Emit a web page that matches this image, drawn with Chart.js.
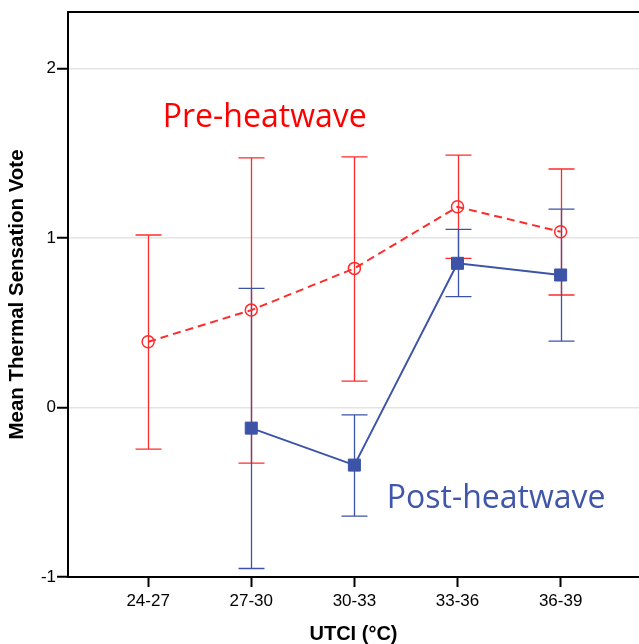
<!DOCTYPE html>
<html>
<head>
<meta charset="utf-8">
<script src="https://cdn.jsdelivr.net/npm/chart.js@4/dist/chart.umd.min.js"></script>
<style>
  html, body { margin: 0; padding: 0; background: #fff; }
  #wrap { width: 639px; height: 644px; }
</style>
</head>
<body>
<div id="wrap"><canvas id="c" width="639" height="644"></canvas></div>
<script>
const categories = ['24-27', '27-30', '30-33', '33-36', '36-39'];
const yTickValues = [-1, 0, 1, 2];

const preMean  = [0.387, 0.574, 0.820, 1.183, 1.036];
const preLow   = [-0.246, -0.329, 0.155, 0.879, 0.663];
const preHigh  = [1.017, 1.472, 1.478, 1.488, 1.406];

const postMean = [null, -0.122, -0.340, 0.850, 0.781];
const postLow  = [null, -0.950, -0.641, 0.653, 0.391];
const postHigh = [null, 0.702, -0.044, 1.050, 1.170];

const RED = '#ff2b2b';
const BLUE = '#3c53a8';

function pts(arr) {
  return arr.map((v, i) => (v === null ? null : { x: i + 1, y: v })).filter(p => p);
}

const errorBars = [
  { low: preLow, high: preHigh, color: RED },
  { low: postLow, high: postHigh, color: BLUE }
];

const annotations = [
  { text: 'Pre-heatwave', x: 1.142, y: 1.654, color: '#ff0000' },
  { text: 'Post-heatwave', x: 3.314, y: -0.594, color: '#4056a8' }
];

const errorBarPlugin = {
  id: 'errorBars',
  beforeDatasetsDraw(chart) {
    const { ctx, scales: { x, y } } = chart;
    ctx.save();
    errorBars.forEach(eb => {
      ctx.strokeStyle = eb.color;
      ctx.lineWidth = 1.3;
      eb.low.forEach((lo, i) => {
        if (lo === null) return;
        const hi = eb.high[i];
        const px = Math.round(x.getPixelForValue(i + 1)) + 0.5;
        const pl = y.getPixelForValue(lo);
        const ph = y.getPixelForValue(hi);
        const cap = 13;
        ctx.beginPath();
        ctx.moveTo(px, pl); ctx.lineTo(px, ph);
        ctx.moveTo(px - cap, pl); ctx.lineTo(px + cap, pl);
        ctx.moveTo(px - cap, ph); ctx.lineTo(px + cap, ph);
        ctx.stroke();
      });
    });
    ctx.restore();
  },
  afterDraw(chart) {
    const { ctx, chartArea, scales: { x, y } } = chart;
    ctx.save();
    ctx.strokeStyle = '#000';
    ctx.lineWidth = 2;
    ctx.beginPath();
    ctx.moveTo(chartArea.left - 1, chartArea.top);
    ctx.lineTo(chartArea.right, chartArea.top);
    ctx.stroke();
    ctx.font = '32px "Open Sans"';
    ctx.textAlign = 'left';
    ctx.textBaseline = 'alphabetic';
    annotations.forEach(a => {
      ctx.fillStyle = a.color;
      ctx.fillText(a.text, x.getPixelForValue(a.x), y.getPixelForValue(a.y));
    });
    ctx.restore();
  }
};

new Chart(document.getElementById('c'), {
  type: 'line',
  data: {
    datasets: [
      {
        label: 'Pre-heatwave',
        data: pts(preMean),
        borderColor: RED,
        backgroundColor: 'rgba(0,0,0,0)',
        borderWidth: 2,
        borderDash: [8, 5],
        pointStyle: 'circle',
        pointRadius: 6,
        pointBorderWidth: 1.5,
        pointBorderColor: RED,
        pointBackgroundColor: 'rgba(255,255,255,0)',
        fill: false,
        tension: 0
      },
      {
        label: 'Post-heatwave',
        data: pts(postMean),
        borderColor: BLUE,
        backgroundColor: BLUE,
        borderWidth: 2,
        pointStyle: 'rect',
        pointRadius: 8.5,
        pointBorderWidth: 1,
        pointBorderColor: BLUE,
        pointBackgroundColor: BLUE,
        fill: false,
        tension: 0
      }
    ]
  },
  options: {
    responsive: false,
    animation: false,
    layout: { autoPadding: false, padding: { top: 12, right: 0, left: 0, bottom: 0 } },
    plugins: { legend: { display: false }, tooltip: { enabled: false } },
    scales: {
      x: {
        type: 'linear',
        min: 0.223,
        max: 5.76,
        afterBuildTicks(scale) {
          scale.ticks = categories.map((c, i) => ({ value: i + 1 }));
        },
        afterFit(scale) {
          scale.height = 67;
          scale.paddingLeft = 0;
          scale.paddingRight = 0;
        },
        ticks: {
          autoSkip: false,
          maxRotation: 0,
          padding: 4,
          color: '#000',
          font: { family: '"Liberation Sans", Arial', size: 17 },
          callback: (v) => categories[Math.round(v) - 1]
        },
        grid: {
          drawOnChartArea: false,
          drawTicks: true,
          tickLength: 10,
          tickColor: '#000',
          tickWidth: 2
        },
        border: { color: '#000', width: 2 },
        title: {
          display: true,
          text: 'UTCI (°C)',
          color: '#000',
          font: { family: '"Liberation Sans", Arial', size: 20, weight: 'bold', lineHeight: 1 },
          padding: { top: 0, bottom: 0 }
        }
      },
      y: {
        type: 'linear',
        min: -1,
        max: 2.332,
        afterBuildTicks(scale) {
          scale.ticks = yTickValues.map(v => ({ value: v }));
        },
        afterFit(scale) {
          scale.width = 68;
          scale.paddingTop = 0;
          scale.paddingBottom = 0;
        },
        ticks: {
          padding: 1,
          color: '#000',
          font: { family: '"Liberation Sans", Arial', size: 17 },
          callback: (v) => String(v)
        },
        grid: {
          color: (ctx) => (ctx.tick && ctx.tick.value === -1 ? 'rgba(0,0,0,0)' : '#e4e4e4'),
          lineWidth: 1.5,
          tickLength: 11,
          tickColor: '#000',
          tickWidth: 2
        },
        border: { color: '#000', width: 2 },
        title: {
          display: true,
          text: 'Mean Thermal Sensation Vote',
          color: '#000',
          font: { family: '"Liberation Sans", Arial', size: 20.5, weight: 'bold', lineHeight: 1.2 },
          padding: { top: 5, bottom: 0 }
        }
      }
    }
  },
  plugins: [errorBarPlugin]
});
</script>
</body>
</html>
